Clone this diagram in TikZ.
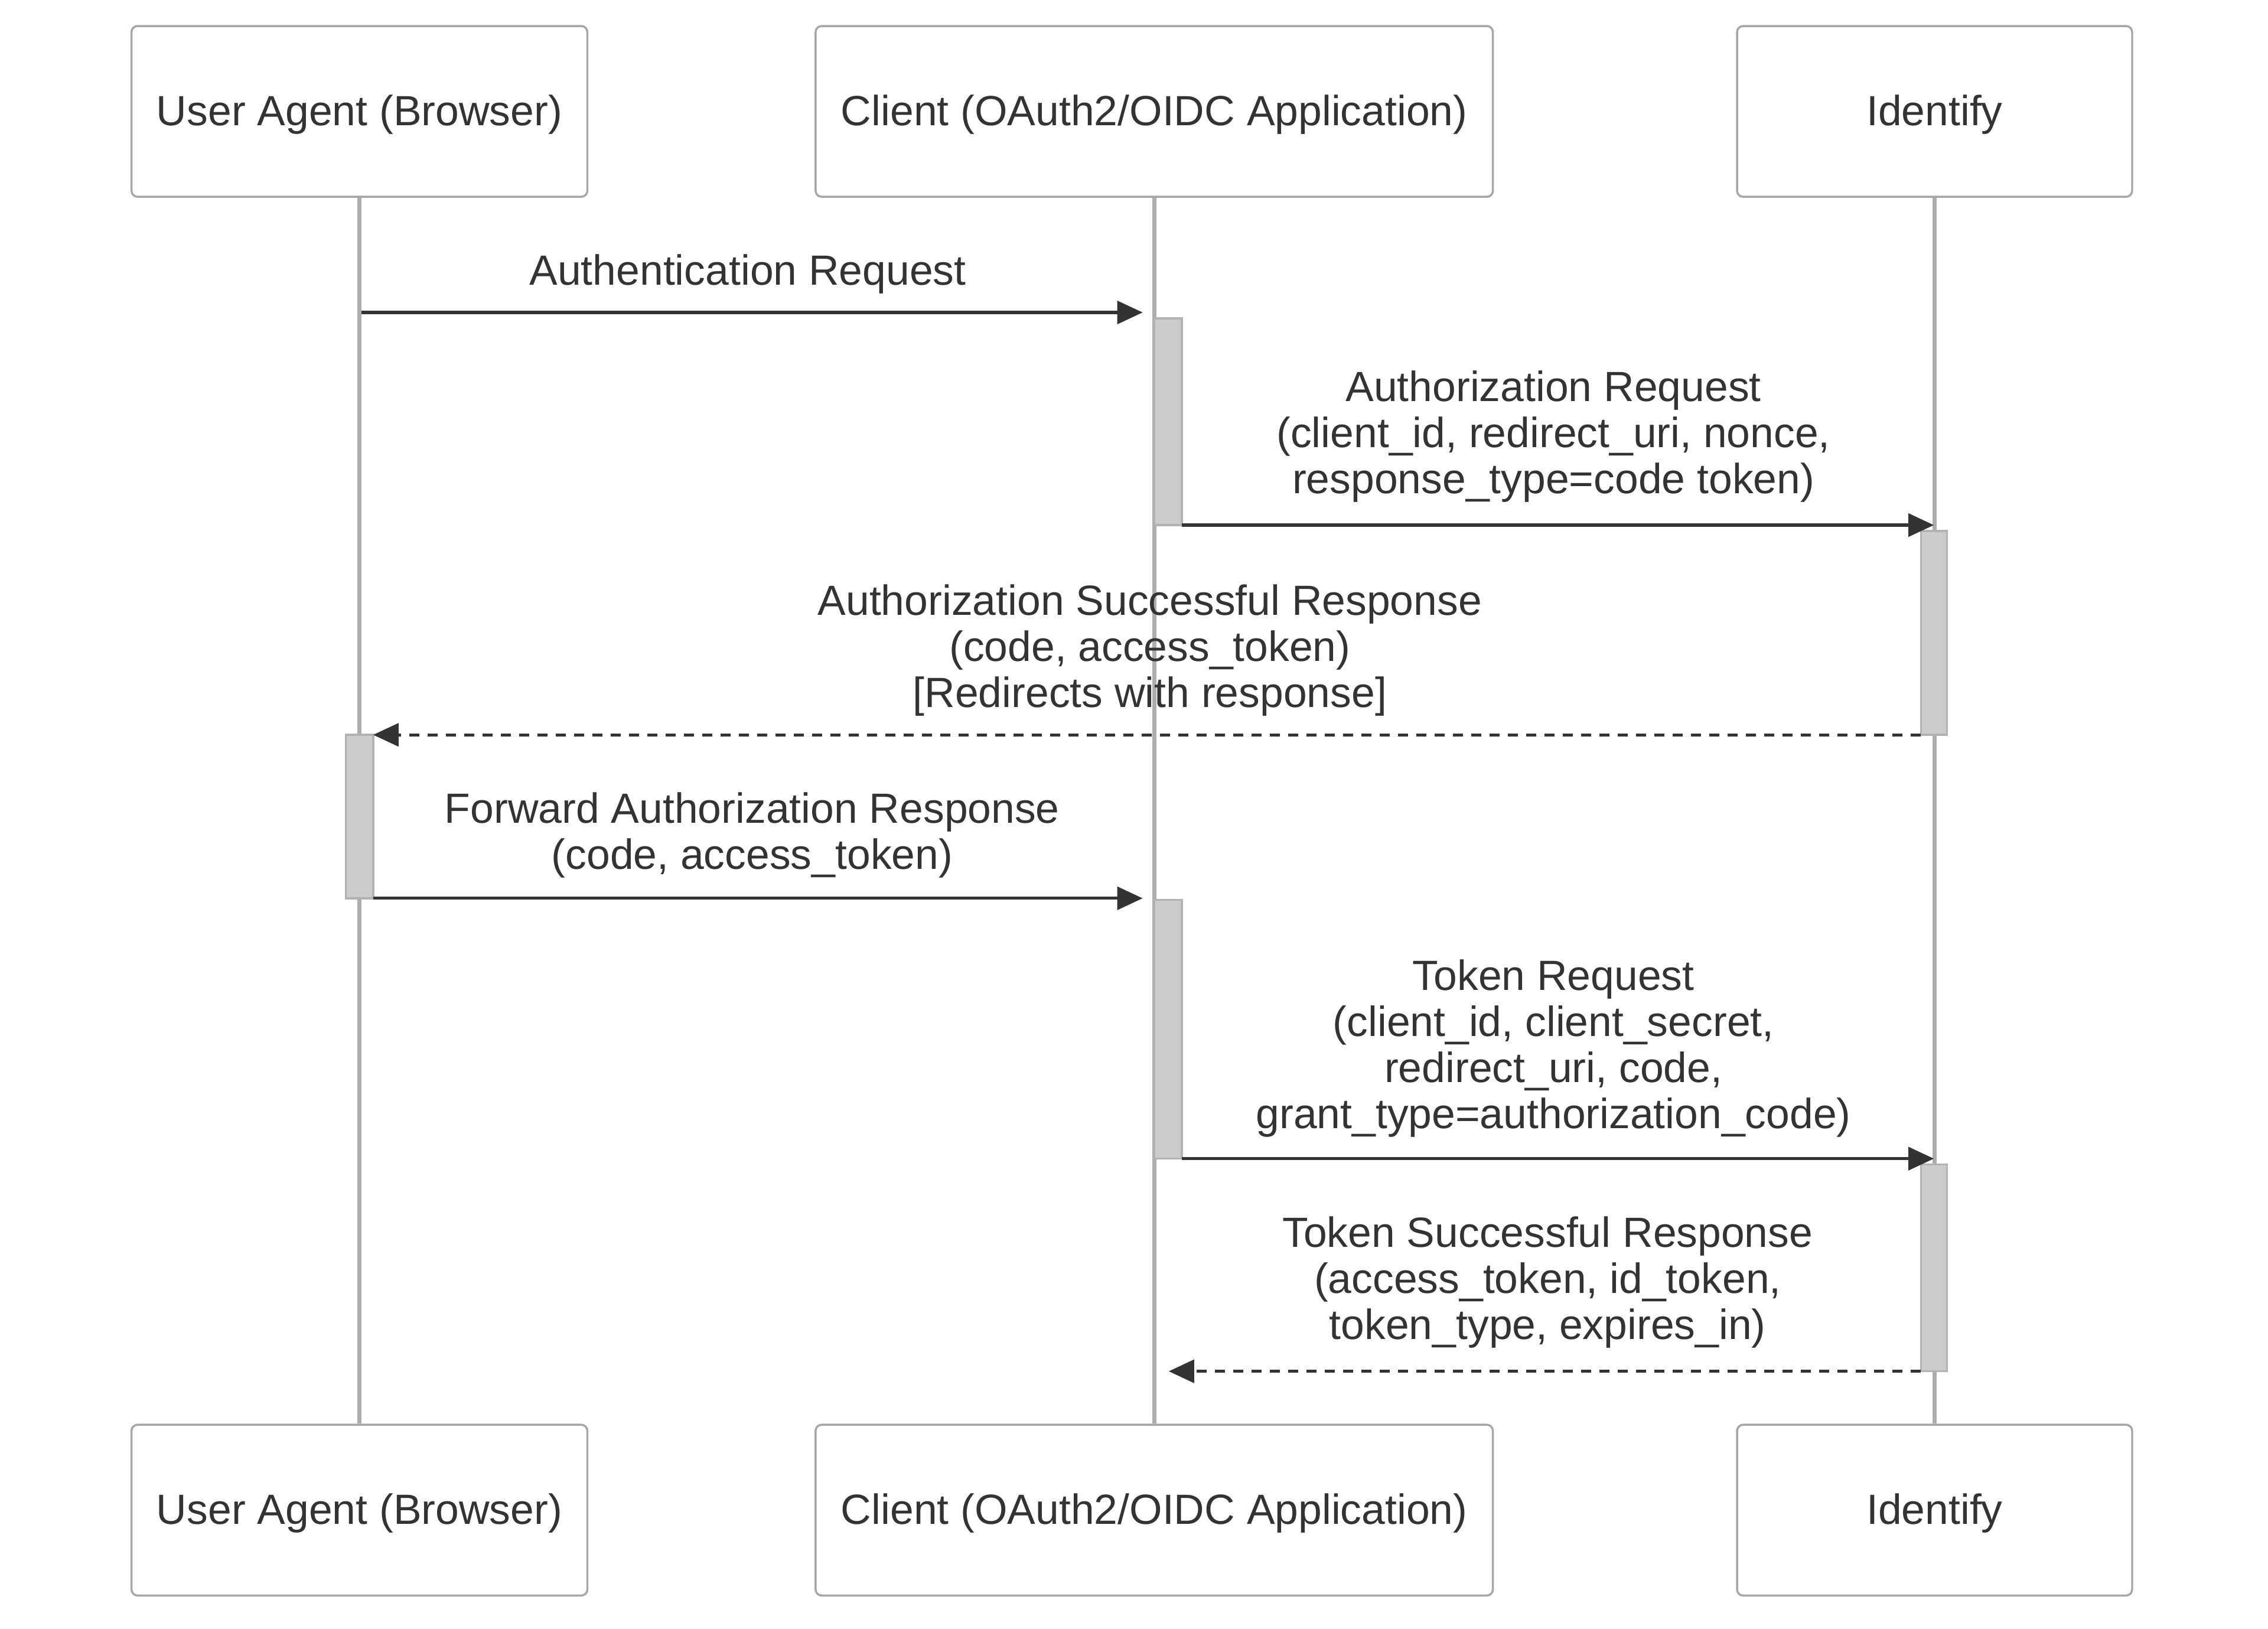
\documentclass[tikz,border=0pt]{standalone}
\usepackage{fontspec}
\setmainfont{Liberation Sans}
\usetikzlibrary{arrows.meta}
\definecolor{txt}{HTML}{333333}
\begin{document}
\begin{tikzpicture}[x=0.01cm,y=-0.01cm,
  actor/.style={draw=black!35,line width=0.4pt,rounded corners=1.2pt,fill=white,minimum height=1.18cm,inner sep=0,text=txt},
  life/.style={draw=black!32,line width=0.75pt},
  act/.style={draw=black!30,fill=black!20,line width=0.4pt},
  msg/.style={draw=txt,line width=0.6pt,-{Triangle[length=5pt,width=4.5pt]}},
  rmsg/.style={msg,dash pattern=on 2pt off 1.6pt},
  lbl/.style={align=center,text=txt,inner sep=0,font=\fontsize{8.3}{9.05}\selectfont}]
\useasboundingbox (0,0) rectangle (1568,1126);
\begin{scope}[every node/.append style={font=\fontsize{8.3}{10}\selectfont,text depth=0.5pt}]
\node[actor,minimum width=3.15cm] (uaT) at (248.5,77) {User Agent (Browser)};
\node[actor,minimum width=4.68cm] (clT) at (798,77) {Client (OAuth2/OIDC Application)};
\node[actor,minimum width=2.73cm] (idT) at (1337.5,77) {Identify};
\node[actor,minimum width=3.15cm] (uaB) at (248.5,1044) {User Agent (Browser)};
\node[actor,minimum width=4.68cm] (clB) at (798,1044) {Client (OAuth2/OIDC Application)};
\node[actor,minimum width=2.73cm] (idB) at (1337.5,1044) {Identify};
\end{scope}
\draw[life] (uaT.south) -- (uaB.north);
\draw[life] (clT.south) -- (clB.north);
\draw[life] (idT.south) -- (idB.north);
\draw[act] (798,220) rectangle (817,363);
\draw[act] (1328,367) rectangle (1346,508);
\draw[act] (239,508) rectangle (258,621);
\draw[act] (798,622) rectangle (817,801);
\draw[act] (1328,805) rectangle (1346,948);
% message endpoints
\coordinate (m1a) at (250,216); \coordinate (m1b) at (790,216);
\coordinate (m2a) at (817,363); \coordinate (m2b) at (1337,363);
\coordinate (m3a) at (1328,508); \coordinate (m3b) at (258,508);
\coordinate (m4a) at (258,621); \coordinate (m4b) at (790,621);
\coordinate (m5a) at (817,801); \coordinate (m5b) at (1337,801);
\coordinate (m6a) at (1328,948); \coordinate (m6b) at (808,948);
\draw[msg] (m1a) -- (m1b);
\draw[msg] (m2a) -- (m2b);
\draw[rmsg] (m3a) -- (m3b);
\draw[msg] (m4a) -- (m4b);
\draw[msg] (m5a) -- (m5b);
\draw[rmsg] (m6a) -- (m6b);
\node[lbl,anchor=base] (l1) at (517,197) {Authentication Request};
\node[lbl,anchor=base] (l2) at (1074,341) {Authorization Request\\(client\_id, redirect\_uri, nonce,\\response\_type=code token)};
\node[lbl,anchor=base] (l3) at (795,489) {Authorization Successful Response\\(code, access\_token)\\{[Redirects with response]}};
\node[lbl,anchor=base] (l4) at (520,601) {Forward Authorization Response\\(code, access\_token)};
\node[lbl,anchor=base] (l5) at (1074,780) {Token Request\\(client\_id, client\_secret,\\redirect\_uri, code,\\grant\_type=authorization\_code)};
\node[lbl,anchor=base] (l6) at (1070,926) {Token Successful Response\\(access\_token, id\_token,\\token\_type, expires\_in)};
\end{tikzpicture}
\end{document}
